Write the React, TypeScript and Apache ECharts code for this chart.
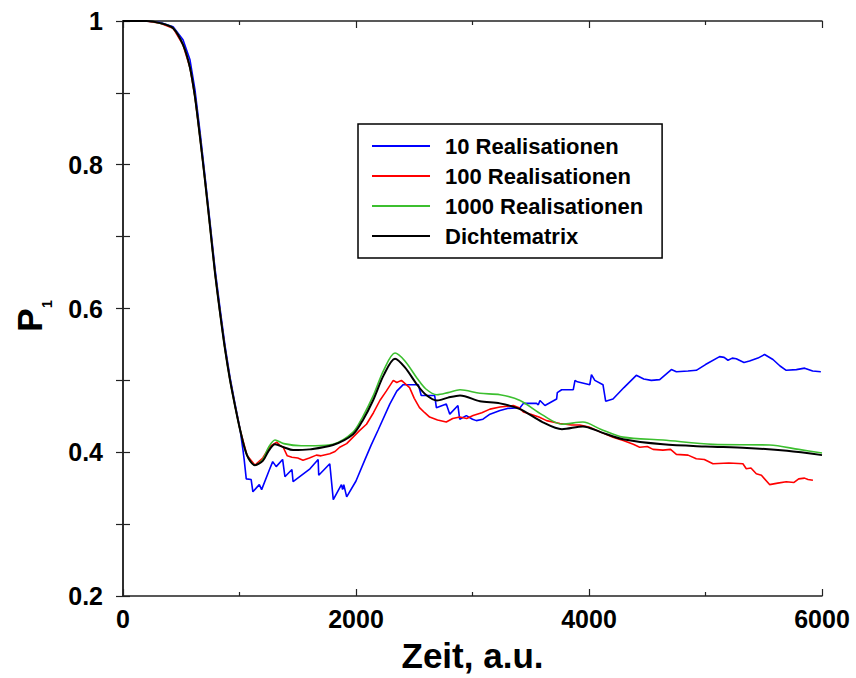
import React, { useEffect, useRef } from "react";
import * as echarts from "echarts";

// ---- Data ----
const dropT = [0, 200, 320, 430, 515, 575, 618, 661, 704, 747, 790, 833, 876, 918, 961, 1004, 1064, 1133];
const dropV = [1, 1, 0.997, 0.99, 0.967, 0.935, 0.894, 0.838, 0.778, 0.714, 0.649, 0.594, 0.543, 0.501, 0.465, 0.432, 0.396, 0.382];

const densT = [1200, 1250, 1305, 1380, 1460, 1600, 1803, 1975, 2060, 2146, 2240, 2335, 2420, 2524, 2600, 2695, 2790, 2893, 3064, 3236, 3408, 3600, 3768, 3948, 4100, 4292, 4635, 5000, 5356, 5700, 6000];
const densV = [0.388, 0.402, 0.411, 0.407, 0.403, 0.404, 0.41, 0.425, 0.445, 0.472, 0.508, 0.53, 0.518, 0.494, 0.48, 0.472, 0.476, 0.479, 0.471, 0.468, 0.46, 0.442, 0.432, 0.436, 0.428, 0.418, 0.411, 0.408, 0.406, 0.402, 0.396];

const r1000T = [1200, 1250, 1305, 1380, 1530, 1650, 1803, 1975, 2060, 2146, 2240, 2335, 2420, 2524, 2600, 2695, 2790, 2893, 3064, 3236, 3408, 3600, 3768, 3948, 4100, 4292, 4635, 5064, 5550, 5800, 6000];
const r1000V = [0.39, 0.407, 0.417, 0.412, 0.409, 0.409, 0.411, 0.428, 0.45, 0.478, 0.515, 0.538, 0.527, 0.503, 0.488, 0.48, 0.483, 0.487, 0.482, 0.48, 0.472, 0.452, 0.439, 0.442, 0.432, 0.421, 0.417, 0.411, 0.41, 0.404, 0.399];

const r100T = [1200, 1260, 1320, 1345, 1375, 1410, 1450, 1500, 1545, 1600, 1660, 1700, 1775, 1820, 1860, 1920, 1975, 2030, 2090, 2150, 2205, 2260, 2320, 2350, 2390, 2460, 2500, 2545, 2590, 2632, 2700, 2775, 2830, 2890, 2950, 3005, 3080, 3150, 3236, 3300, 3350, 3400, 3437, 3500, 3570, 3636, 3750, 3850, 3920, 4000, 4100, 4206, 4300, 4380, 4435, 4500, 4550, 4635, 4700, 4750, 4850, 4921, 4990, 5064, 5200, 5321, 5350, 5390, 5436, 5480, 5550, 5620, 5693, 5760, 5800, 5850, 5880, 5922];
const r100V = [0.392, 0.408, 0.414, 0.41, 0.407, 0.395, 0.393, 0.392, 0.389, 0.392, 0.396, 0.395, 0.398, 0.401, 0.407, 0.412, 0.421, 0.43, 0.439, 0.455, 0.472, 0.485, 0.5, 0.497, 0.5, 0.49, 0.475, 0.462, 0.455, 0.449, 0.445, 0.442, 0.447, 0.449, 0.447, 0.451, 0.455, 0.46, 0.463, 0.464, 0.465, 0.462, 0.456, 0.453, 0.449, 0.444, 0.44, 0.438, 0.438, 0.435, 0.428, 0.421, 0.416, 0.411, 0.407, 0.408, 0.404, 0.403, 0.404, 0.397, 0.396, 0.391, 0.39, 0.384, 0.385, 0.384, 0.377, 0.378, 0.37, 0.368, 0.355, 0.357, 0.359, 0.358, 0.363, 0.364, 0.362, 0.361];

const r10T = [0, 200, 320, 430, 515, 575, 618, 661, 704, 747, 790, 833, 876, 918, 961, 1004, 1030, 1040, 1058, 1100, 1115, 1170, 1190, 1255, 1285, 1315, 1370, 1390, 1450, 1460, 1605, 1675, 1680, 1775, 1805, 1875, 1885, 1895, 1920, 2000, 2075, 2130, 2190, 2290, 2350, 2405, 2535, 2560, 2675, 2690, 2775, 2805, 2875, 2890, 2947, 3000, 3033, 3090, 3150, 3236, 3300, 3408, 3437, 3550, 3565, 3579, 3622, 3722, 3728, 3765, 3865, 3880, 3900, 4007, 4021, 4050, 4120, 4143, 4206, 4300, 4406, 4470, 4535, 4607, 4707, 4750, 4850, 4921, 5000, 5121, 5160, 5193, 5230, 5264, 5330, 5378, 5450, 5507, 5579, 5640, 5693, 5780, 5851, 5920, 5990];
const r10V = [1, 1, 0.998, 0.992, 0.974, 0.946, 0.904, 0.846, 0.784, 0.72, 0.655, 0.6, 0.548, 0.505, 0.468, 0.433, 0.403, 0.39, 0.363, 0.362, 0.345, 0.355, 0.348, 0.375, 0.387, 0.38, 0.39, 0.366, 0.376, 0.359, 0.377, 0.39, 0.368, 0.384, 0.334, 0.355, 0.348, 0.355, 0.338, 0.36, 0.389, 0.41, 0.431, 0.467, 0.485, 0.494, 0.494, 0.479, 0.479, 0.462, 0.467, 0.453, 0.465, 0.446, 0.451, 0.446, 0.444, 0.446, 0.453, 0.458, 0.461, 0.462, 0.468, 0.468, 0.466, 0.472, 0.465, 0.474, 0.483, 0.487, 0.487, 0.5, 0.498, 0.494, 0.508, 0.5, 0.494, 0.471, 0.474, 0.49, 0.507, 0.502, 0.5, 0.501, 0.515, 0.512, 0.513, 0.514, 0.522, 0.533, 0.532, 0.528, 0.531, 0.53, 0.525, 0.527, 0.531, 0.536, 0.529, 0.52, 0.514, 0.515, 0.517, 0.513, 0.512];

const xTicks = [0, 2000, 4000, 6000];
const yTicks = [0.2, 0.4, 0.6, 0.8, 1];
const seriesNames = ["10 Realisationen", "100 Realisationen", "1000 Realisationen", "Dichtematrix"];
const seriesColors = ["#0000ff", "#ff0000", "#3cbf2f", "#000000"];

const FONT = "'Liberation Sans', Arial, Helvetica, sans-serif";

function pairs(t: number[], v: number[]) {
  return t.map((x, i) => [x, v[i]]);
}

export default function App() {
  const ref = useRef<HTMLDivElement>(null);
  useEffect(() => {
    if (!ref.current) return;
    const chart = echarts.init(ref.current, null, { renderer: "svg" });
    const axisLine = { show: true, lineStyle: { color: "#222", width: 1.5 } };
    const xCommon = {
      type: "value" as const,
      min: xTicks[0],
      max: xTicks[xTicks.length - 1],
      interval: xTicks[1] - xTicks[0],
      axisLine,
      axisTick: { show: true, inside: true, length: 7, lineStyle: { color: "#222", width: 1.2 } },
      minorTick: { show: true, splitNumber: 2, length: 4, lineStyle: { color: "#222", width: 1.2 } },
      splitLine: { show: false },
      minorSplitLine: { show: false },
    };
    const yCommon = {
      type: "value" as const,
      min: yTicks[0],
      max: yTicks[yTicks.length - 1],
      interval: 0.2,
      axisLine,
      axisTick: { show: true, inside: true, length: 7, lineStyle: { color: "#222", width: 1.2 } },
      minorTick: { show: true, splitNumber: 2, length: 7, lineStyle: { color: "#222", width: 1.2 } },
      splitLine: { show: false },
      minorSplitLine: { show: false },
    };
    const dataSets = [
      pairs(r10T, r10V),
      pairs(dropT.concat(r100T), dropV.concat(r100V)),
      pairs(dropT.concat(r1000T), dropV.concat(r1000V)),
      pairs(dropT.concat(densT), dropV.concat(densV)),
    ];
    chart.setOption({
      animation: false,
      backgroundColor: "#fff",
      grid: { left: 123, top: 21, right: 34, bottom: 78, containLabel: false },
      xAxis: [
        {
          ...xCommon,
          position: "bottom",
          name: "Zeit, a.u.",
          nameLocation: "middle",
          nameGap: 42,
          nameTextStyle: { fontFamily: FONT, fontWeight: "bold", fontSize: 35, color: "#000" },
          axisLabel: {
            show: true,
            margin: 10,
            fontFamily: FONT,
            fontWeight: "bold",
            fontSize: 25,
            color: "#000",
            formatter: (v: number) => String(v),
          },
        },
        { ...xCommon, position: "top", axisLabel: { show: false } },
      ],
      yAxis: [
        {
          ...yCommon,
          position: "left",
          axisLabel: {
            show: true,
            margin: 20,
            fontFamily: FONT,
            fontWeight: "bold",
            fontSize: 25,
            color: "#000",
            formatter: (v: number) => (Math.abs(v - 1) < 1e-9 ? "1" : v.toFixed(1)),
          },
        },
        { ...yCommon, position: "right", axisLabel: { show: false } },
      ],
      legend: {
        left: 358,
        top: 124,
        orient: "vertical",
        data: seriesNames,
        backgroundColor: "#fff",
        borderColor: "#000",
        borderWidth: 1.5,
        padding: [11, 19, 11, 14],
        icon: "rect",
        itemWidth: 58,
        itemHeight: 2,
        itemGap: 8,
        textStyle: {
          fontFamily: FONT,
          fontWeight: "bold",
          fontSize: 22,
          color: "#000",
          padding: [0, 0, 0, 10],
        },
      },
      graphic: [
        {
          type: "text",
          x: 29.5,
          y: 320,
          rotation: Math.PI / 2,
          style: {
            text: "P",
            fontFamily: FONT,
            fontWeight: "bold",
            fontSize: 35,
            fill: "#000",
            align: "center",
            verticalAlign: "middle",
          },
        },
        {
          type: "text",
          x: 47,
          y: 304,
          rotation: Math.PI / 2,
          style: {
            text: "1",
            fontFamily: FONT,
            fontWeight: "bold",
            fontSize: 14,
            fill: "#000",
            align: "center",
            verticalAlign: "middle",
          },
        },
      ],
      series: seriesNames.map((name, i) => ({
        name,
        type: "line",
        xAxisIndex: 0,
        yAxisIndex: 0,
        data: dataSets[i],
        symbol: "none",
        smooth: i >= 2 ? 0.3 : false,
        z: i === 3 ? 5 : 2 + (i === 2 ? 1 : 0),
        lineStyle: { color: seriesColors[i], width: i === 3 ? 2 : 1.6 },
        itemStyle: { color: seriesColors[i] },
      })),
    });
    return () => chart.dispose();
  }, []);
  return (
    <div
      ref={ref}
      style={{ position: "fixed", left: 0, top: 0, width: 856, height: 678, background: "#fff" }}
    />
  );
}
